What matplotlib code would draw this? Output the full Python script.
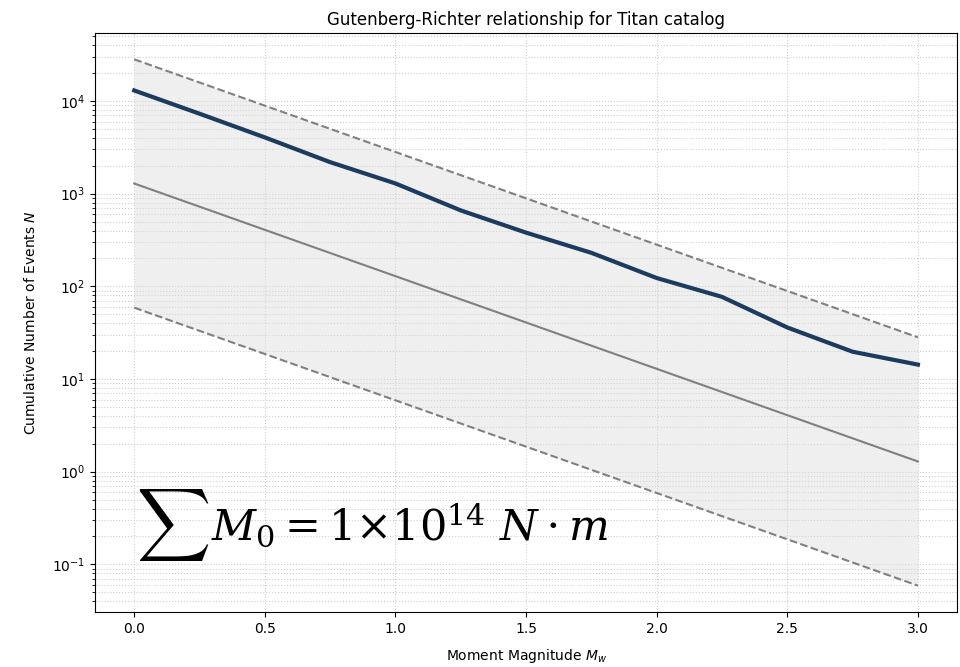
import numpy as np
import matplotlib
matplotlib.use("Agg")
import matplotlib.pyplot as plt

# Magnitude bins and cumulative event counts for the Titan catalog
magnitudes = [0.0, 0.25, 0.5, 0.75, 1.0, 1.25, 1.5, 1.75, 2.0, 2.25, 2.5, 2.75, 3.0]
cumulative_counts = [13000, 7300, 4050, 2190, 1290, 660, 380, 230, 123, 77, 36, 19.7, 14.3]

# Gutenberg-Richter fit: log10 N = a - b*M, with upper/lower bounds
gr_a = 3.11
gr_b = 1.0
bound_offset = 1.34

m = np.array(magnitudes)
fit = 10 ** (gr_a - gr_b * m)
upper = 10 ** (gr_a + bound_offset - gr_b * m)
lower = 10 ** (gr_a - bound_offset - gr_b * m)

fig = plt.figure(figsize=(9.6, 6.67), dpi=100)
ax = fig.add_axes([0.099, 0.0825, 0.898, 0.868])

ax.fill_between(m, lower, upper, color="#d9d9d9", alpha=0.4, linewidth=0, zorder=1)
ax.plot(m, upper, color="gray", linestyle="--", linewidth=1.5, zorder=2)
ax.plot(m, lower, color="gray", linestyle="--", linewidth=1.5, zorder=2)
ax.plot(m, fit, color="gray", linestyle="-", linewidth=1.5, zorder=2)
ax.plot(m, cumulative_counts, color="#1d3b5e", linewidth=3, zorder=3)

ax.set_yscale("log")
ax.set_xticks([0.0, 0.5, 1.0, 1.5, 2.0, 2.5, 3.0])
ax.grid(True, which="both", linestyle=":", color="#cfcfcf", linewidth=0.8)
ax.set_axisbelow(True)

ax.set_title("Gutenberg-Richter relationship for Titan catalog", fontsize=12)
ax.set_xlabel("Moment Magnitude $M_w$", fontsize=10, labelpad=8)
ax.set_ylabel("Cumulative Number of Events $N$", fontsize=10, labelpad=10)

# Total seismic moment annotation
ax.text(0.0475, 0.150, r"$\sum$", transform=ax.transAxes, fontsize=37,
        va="center", ha="left", math_fontfamily="cm", zorder=4)
ax.text(0.135, 0.124, r"$M_0 = 1{\times}10^{14}\ N \cdot m$",
        transform=ax.transAxes, fontsize=31, va="baseline", ha="left",
        math_fontfamily="dejavuserif", zorder=4)

fig.savefig("out.png", dpi=100)
